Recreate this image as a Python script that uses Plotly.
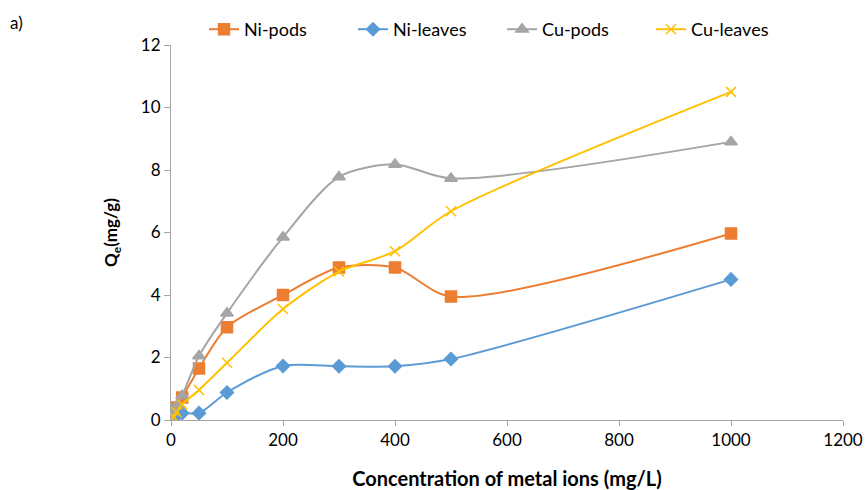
import plotly.graph_objects as go

x_vals = [0, 5, 10, 20, 50, 100, 200, 300, 400, 500, 1000]
ni_pods = [0.05, 0.2, 0.4, 0.72, 1.65, 2.97, 4.0, 4.88, 4.88, 3.95, 5.97]
ni_leaves = [0.02, 0.08, 0.15, 0.22, 0.22, 0.88, 1.73, 1.72, 1.72, 1.95, 4.5]
cu_pods = [0.05, 0.25, 0.45, 0.78, 2.05, 3.42, 5.85, 7.78, 8.18, 7.73, 8.9]
cu_leaves = [0.02, 0.1, 0.25, 0.5, 0.96, 1.83, 3.55, 4.75, 5.4, 6.68, 10.5]

x_ticks = [0, 200, 400, 600, 800, 1000, 1200]
y_ticks = [0, 2, 4, 6, 8, 10, 12]

font_family = "Lato, 'Open Sans', sans-serif"

series = [
    ("Ni-pods", ni_pods, "#ED7D31", "square", 11),
    ("Ni-leaves", ni_leaves, "#5B9BD5", "diamond", 10),
    ("Cu-pods", cu_pods, "#A5A5A5", "triangle-up", 11),
    ("Cu-leaves", cu_leaves, "#FFC000", "x-thin-open", 10),
]

fig = go.Figure()
for name, ys, color, sym, size in series:
    fig.add_trace(go.Scatter(
        x=x_vals, y=ys, name=name, mode="lines+markers",
        line=dict(color=color, width=2, shape="spline", smoothing=0.8),
        marker=dict(symbol=sym, size=size, color=color,
                    line=dict(color=color, width=1.5)),
    ))

L, R, T, B = 171, 23, 45, 70
W, H = 866, 490

fig.update_layout(
    width=W, height=H,
    margin=dict(l=L, r=R, t=T, b=B, autoexpand=False),
    paper_bgcolor="white", plot_bgcolor="white",
    font=dict(family=font_family, size=17, color="#000000"),
    showlegend=True,
    legend=dict(orientation="h", x=204 / W, y=1 - 11 / H, xref="container", yref="container",
                xanchor="left", yanchor="top", font=dict(size=18),
                entrywidth=104, entrywidthmode="pixels", traceorder="normal"),
    xaxis=dict(range=[0, 1200], tickvals=x_ticks, showgrid=False, zeroline=False,
               showline=True, linecolor="#A6A6A6", linewidth=1,
               ticks="outside", ticklen=5, tickcolor="#A6A6A6",
               title=dict(text="<b>Concentration of metal ions (mg/L)</b>", standoff=22,
                          font=dict(size=20))),
    yaxis=dict(range=[0, 12], tickvals=y_ticks, showgrid=False, zeroline=False,
               showline=True, linecolor="#A6A6A6", linewidth=1,
               ticks="outside", ticklen=6, tickcolor="#A6A6A6",
               title=dict(text="<b>Q<sub>e</sub>(mg/g)</b>", standoff=18,
                          font=dict(size=17))),
)
plot_w = W - L - R
plot_h = H - T - B
fig.add_annotation(text="a)", x=(8 - L) / plot_w, y=(H - B - 22) / plot_h,
                   xref="paper", yref="paper", showarrow=False,
                   font=dict(size=17), xanchor="left", yanchor="middle")

fig.write_html("out.html")
